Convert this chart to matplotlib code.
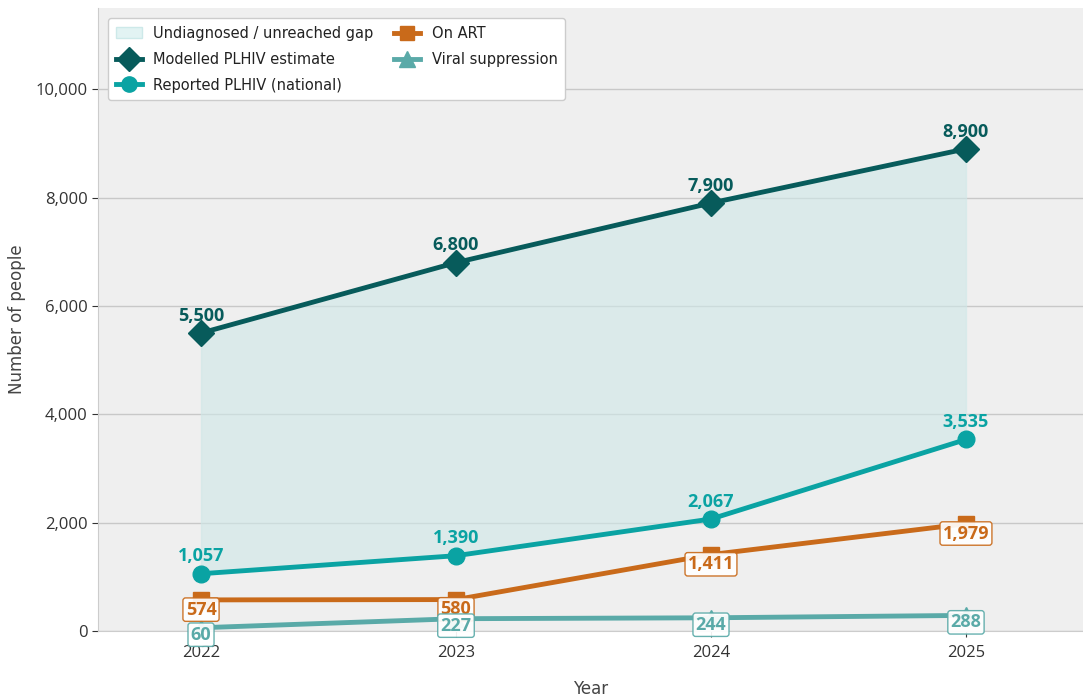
import numpy as np
import matplotlib.pyplot as plt
from matplotlib.patches import Patch
from matplotlib.lines import Line2D

years = [2022, 2023, 2024, 2025]
modelled = [5500, 6800, 7900, 8900]
reported = [1057, 1390, 2067, 3535]
on_art = [574, 580, 1411, 1979]
viral = [60, 227, 244, 288]

c_mod = '#075b5b'
c_rep = '#0aa3a3'
c_art = '#c96a1a'
c_vir = '#5aaaa8'
c_fill = '#cfe8e8'

fig = plt.figure(figsize=(10.83, 6.98), dpi=100)
ax = fig.add_axes([98/1083, 1 - 631/698, 985/1083, 623/698])
ax.set_facecolor('#efefef')

ax.fill_between(years, reported, modelled, color=c_fill, alpha=0.6, zorder=1)
ax.plot(years, modelled, color=c_mod, lw=3.5, marker='D', ms=13, zorder=4)
ax.plot(years, reported, color=c_rep, lw=3.5, marker='o', ms=12, zorder=4)
ax.plot(years, on_art, color=c_art, lw=3.5, marker='s', ms=11, zorder=3)
ax.plot(years, viral, color=c_vir, lw=3.5, marker='^', ms=11, zorder=3)

lab_font = 'Open Sans'
fs = 13
for x, y in zip(years, modelled):
    ax.annotate(f'{y:,}', (x, y), xytext=(0, 6), textcoords='offset points',
                ha='center', va='bottom', fontsize=fs, fontweight='bold',
                color=c_mod, family=lab_font, zorder=6)
for x, y in zip(years, reported):
    ax.annotate(f'{y:,}', (x, y), xytext=(0, 6), textcoords='offset points',
                ha='center', va='bottom', fontsize=fs, fontweight='bold',
                color=c_rep, family=lab_font, zorder=6)
for x, y in zip(years, on_art):
    ax.annotate(f'{y:,}', (x, y), xytext=(0, -7), textcoords='offset points',
                ha='center', va='center', fontsize=fs, fontweight='bold',
                color=c_art, family=lab_font, zorder=6,
                bbox=dict(boxstyle='round,pad=0.15', fc='white', ec=c_art, lw=1, alpha=0.92))
for x, y in zip(years, viral):
    ax.annotate(f'{y:,}', (x, y), xytext=(0, -5), textcoords='offset points',
                ha='center', va='center', fontsize=fs, fontweight='bold',
                color=c_vir, family=lab_font, zorder=7,
                bbox=dict(boxstyle='round,pad=0.15', fc='white', ec=c_vir, lw=1, alpha=0.92))

ax.set_xlim(2021.596, 2025.459)
ax.set_ylim(0, 11500)
ax.set_xticks(years)
ax.set_xticklabels([str(y) for y in years], family=lab_font, fontsize=12, color='#333333')
ax.set_yticks(range(0, 10001, 2000))
ax.set_yticklabels([f'{v:,}' for v in range(0, 10001, 2000)], family=lab_font, fontsize=12, color='#333333')
ax.grid(axis='y', color='#c8c8c8', lw=1)
ax.set_axisbelow(True)
for s in ['top', 'right']:
    ax.spines[s].set_visible(False)
for s in ['left', 'bottom']:
    ax.spines[s].set_color('#cccccc')
ax.tick_params(colors='#333333', length=4)
ax.tick_params(axis='x', pad=6)

ax.set_ylabel('Number of people', fontsize=12, color='#444444', labelpad=7)
ax.set_xlabel('Year', fontsize=12, color='#444444', labelpad=14)

handles = [
    Patch(fc='#e2f3f3', ec='#cde9e9', label='Undiagnosed / unreached gap'),
    Line2D([], [], color=c_mod, lw=3.5, marker='D', ms=12, label='Modelled PLHIV estimate'),
    Line2D([], [], color=c_rep, lw=3.5, marker='o', ms=11, label='Reported PLHIV (national)'),
    Line2D([], [], color=c_art, lw=3.5, marker='s', ms=10, label='On ART'),
    Line2D([], [], color=c_vir, lw=3.5, marker='^', ms=11, label='Viral suppression'),
]
leg = ax.legend(handles=handles, loc='upper left', ncol=2, fontsize=10.5,
                frameon=True, facecolor='white', edgecolor='#cccccc',
                bbox_to_anchor=(0.003, 0.995), handlelength=1.8, columnspacing=1.4,
                labelspacing=0.75, borderpad=0.5, labelcolor='#222222')
leg.get_frame().set_alpha(1)

fig.savefig('out.png', dpi=100)
